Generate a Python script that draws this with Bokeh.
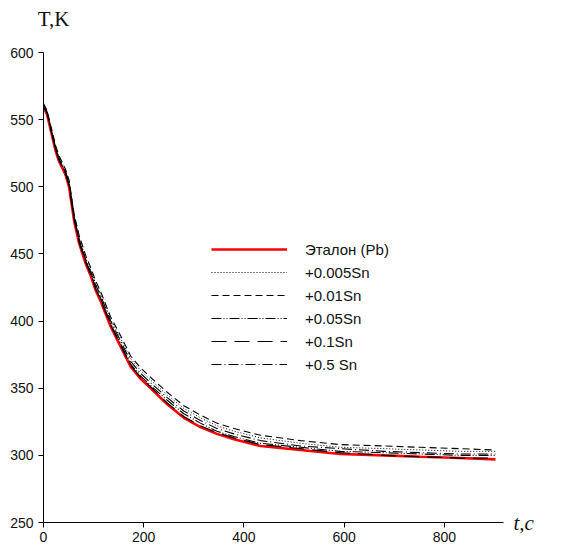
from bokeh.plotting import figure
from bokeh.models import Range1d, FixedTicker, Legend, LegendItem, LinearAxis
from bokeh.embed import file_html
from bokeh.resources import INLINE

# time, s
t = [0, 7, 24, 31, 44, 51, 61, 71, 84, 94, 104, 114, 134, 154, 174, 194, 214,
     247, 280, 313, 346, 380, 433, 513, 592, 680, 752, 830, 902]

etalon_pb = [559, 554, 527, 519, 509, 500, 475, 458, 443, 434, 423, 415, 396, 381,
             366, 357, 350, 338, 328, 321, 316, 312, 307, 304, 301, 300, 299, 298, 297]
sn_0005 = [561, 556, 530, 522, 512, 504, 479, 462, 447, 438, 428, 420, 401, 387,
           372, 363, 356, 345, 335, 328, 322, 318, 313, 309, 306, 305, 304, 303, 303]
sn_001 = [562, 557, 531, 523, 513, 505, 480, 464, 449, 440, 430, 422, 403, 389,
          374, 365, 358, 347, 337, 330, 324, 320, 315, 311, 308, 307, 306, 305, 304]
sn_005 = [560, 555, 528, 520, 510, 502, 477, 460, 445, 436, 425, 417, 398, 383,
          368, 359, 352, 341, 331, 324, 318, 314, 309, 306, 303, 302, 301, 300, 300]
sn_01 = [560, 555, 528, 520, 510, 501, 476, 459, 444, 435, 424, 416, 397, 382,
         367, 358, 351, 339, 329, 322, 317, 313, 308, 305, 302, 300, 299, 298, 298]
sn_05 = [561, 556, 529, 521, 511, 503, 478, 461, 446, 437, 427, 419, 400, 385,
         370, 361, 354, 343, 333, 326, 320, 316, 311, 307, 305, 303, 302, 301, 301]

labels = ["Эталон (Pb)", "+0.005Sn", "+0.01Sn", "+0.05Sn", "+0.1Sn", "+0.5 Sn"]
x_ticks = [0, 200, 400, 600, 800]
y_ticks = [250, 300, 350, 400, 450, 500, 550, 600]
y_title = "T,K"
x_title = "t,c"

FONT = "Liberation Sans"

p = figure(width=574, height=555, output_backend="svg", toolbar_location=None,
           x_range=Range1d(0, 918), y_range=Range1d(250, 600),
           min_border_left=43, min_border_right=71, min_border_top=52,
           min_border_bottom=33)
p.outline_line_color = None
p.xgrid.visible = False
p.ygrid.visible = False
p.background_fill_color = "white"
p.border_fill_color = "white"

for ax, ticks in ((p.xaxis[0], x_ticks), (p.yaxis[0], y_ticks)):
    ax.ticker = FixedTicker(ticks=ticks)
    ax.minor_tick_line_color = None
    ax.major_tick_in = 0
    ax.major_tick_out = 5
    ax.axis_line_color = "black"
    ax.major_tick_line_color = "black"
    ax.major_label_text_font = FONT
    ax.major_label_text_font_size = "14px"
    ax.major_label_text_color = "#111111"
p.xaxis.major_label_standoff = 4
p.yaxis.major_label_standoff = 5

r0 = p.line(t, etalon_pb, line_color="#ff0000", line_width=2.6)
r1 = p.line(t, sn_0005, line_color="black", line_width=1, line_dash="1 2")
r2 = p.line(t, sn_001, line_color="black", line_width=1.1, line_dash="7 4")
r3 = p.line(t, sn_005, line_color="black", line_width=1.1, line_dash="10 2 1 2 1 2")
r4 = p.line(t, sn_01, line_color="black", line_width=1.2, line_dash="15 8")
r5 = p.line(t, sn_05, line_color="black", line_width=1.1, line_dash="10 3 1 3")
renderers = [r0, r1, r2, r3, r4, r5]

legend = Legend(items=[LegendItem(label=l, renderers=[r]) for l, r in zip(labels, renderers)],
                location=(158, 138), glyph_width=76, glyph_height=20, label_height=20,
                label_standoff=18, spacing=3, padding=10, margin=0,
                border_line_alpha=0, background_fill_alpha=0,
                label_text_font=FONT, label_text_font_size="15px",
                label_text_color="#111111")
p.add_layout(legend, "center")

# "T,K" above the y axis: tick label of a bare top axis, right-aligned
top_ax = LinearAxis(ticker=FixedTicker(ticks=[20]),
                    major_label_overrides={20: y_title},
                    axis_line_color=None, major_tick_line_color=None,
                    minor_tick_line_color=None, major_tick_out=0, major_tick_in=0,
                    major_label_standoff=22, major_label_text_align="right",
                    major_label_text_font="Liberation Serif",
                    major_label_text_font_size="21px",
                    major_label_text_color="#111111")
p.add_layout(top_ax, "above")

# "t,c" at the right end of the x axis: tick label of a bare right axis at y=250
right_ax = LinearAxis(ticker=FixedTicker(ticks=[250]),
                      major_label_overrides={250: x_title},
                      axis_line_color=None, major_tick_line_color=None,
                      minor_tick_line_color=None, major_tick_out=0, major_tick_in=0,
                      major_label_standoff=10,
                      major_label_text_font="Liberation Serif",
                      major_label_text_font_style="italic",
                      major_label_text_font_size="21px",
                      major_label_text_color="#111111")
p.add_layout(right_ax, "right")

open("out.html", "w").write(file_html(p, INLINE))
